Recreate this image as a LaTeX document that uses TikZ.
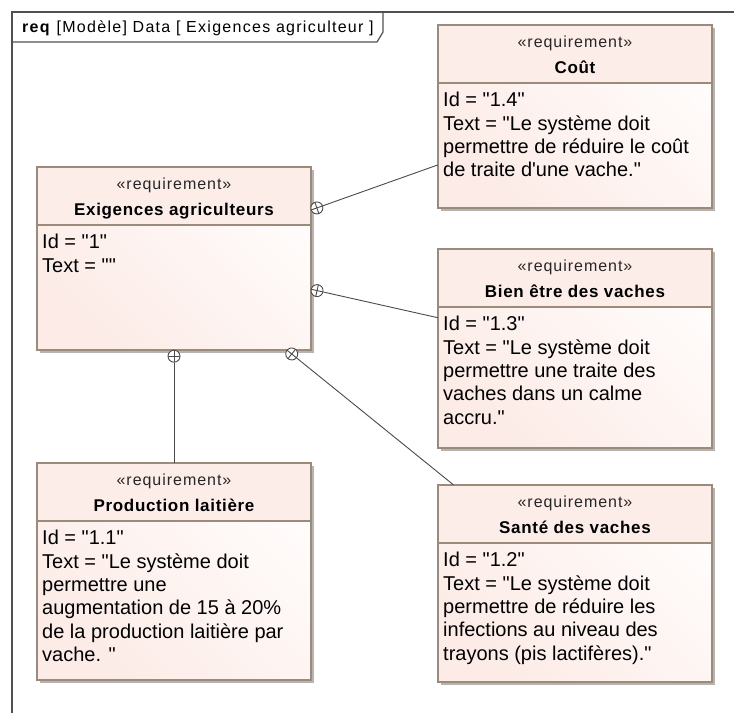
\documentclass[tikz,border=0pt]{standalone}
\usepackage{fontspec}
\setmainfont{Liberation Sans}[Ligatures=TeXOff]
\newfontfamily\stfont{Liberation Sans}[LetterSpace=6]
\newfontfamily\nmfont{Liberation Sans}[LetterSpace=4]
\newfontfamily\ttlfont{Liberation Sans}[LetterSpace=8]
\usetikzlibrary{calc}
\definecolor{hdr}{HTML}{FCEDE8}
\definecolor{bodyA}{HTML}{FCEBE6}
\definecolor{bodyB}{HTML}{FFFCFB}
\definecolor{bord}{HTML}{9B8B7A}
\definecolor{shd}{HTML}{B4B4B4}
\definecolor{frm}{HTML}{505050}
\definecolor{ln}{HTML}{4A4A4A}
\tikzset{
 rqnode/.style={rectangle, inner sep=0pt, left color=bodyA, right color=bodyB, shading angle=135},
 boxline/.style={draw=bord, line width=1.2pt},
 sttext/.style={font=\stfont\fontsize{16}{18}\selectfont, inner sep=0pt, anchor=base, text=black!85},
 nmtext/.style={font=\nmfont\bfseries\fontsize{17}{20}\selectfont, inner sep=0pt, anchor=base},
 bodytext/.style={font=\fontsize{20}{23.4}\selectfont, inner sep=0pt, anchor=north west, align=left},
 mk/.style={circle, draw=ln, line width=0.9pt, fill=white, minimum size=12pt, inner sep=0pt},
 conn/.style={draw=ln, line width=0.9pt},
 frame/.style={draw=frm, line width=1.2pt},
}
% #1 name, #2 left, #3 top, #4 right, #5 bottom, #6 title, #7 body
\newcommand\rqbox[7]{%
 \fill[shd] ({#2+3},{#3+3}) rectangle ({#4+3},{#5+3});
 \node[rqnode, minimum width={#4-#2}, minimum height={#5-#3}] (#1) at ({(#2+#4)/2},{(#3+#5)/2}) {};
 \fill[hdr] (#2,#3) rectangle (#4,{#3+58});
 \draw[boxline] (#2,#3) rectangle (#4,#5);
 \draw[boxline] (#2,{#3+58}) -- (#4,{#3+58});
 \node[sttext] (#1-st) at ({(#2+#4)/2},{#3+22}) {«requirement»};
 \node[nmtext] (#1-nm) at ({(#2+#4)/2},{#3+48}) {#6};
 \node[bodytext] (#1-tx) at ({#2+5},{#3+58+23.5-15}) {\rule{0pt}{15pt}#7};
}
\begin{document}
\begin{tikzpicture}[x=1pt,y=-1pt]
\useasboundingbox (0,0) rectangle (734,713);
% frame
\draw[frame] (12,713) -- (12,12) -- (734,12);
\draw[frame] (12,42) -- (377,42) -- (383,32) -- (383,12);
\node[font=\ttlfont\fontsize{16}{18}\selectfont, anchor=base west, inner sep=0pt] (title) at (22,32) {\textbf{req} [Modèle] Data [ Exigences agriculteur ]};
% boxes
\rqbox{cout}{438}{25}{712}{208}{Coût}{Id = "1.4"\\Text = "Le système doit\\permettre de réduire le coût\\de traite d'une vache."}
\rqbox{exig}{37}{167}{311}{350}{Exigences agriculteurs}{Id = "1"\\Text = ""}
\rqbox{bien}{438}{249}{712}{448}{Bien être des vaches}{Id = "1.3"\\Text = "Le système doit\\permettre une traite des\\vaches dans un calme\\accru."}
\rqbox{prod}{37}{463}{311}{680}{Production laitière}{Id = "1.1"\\Text = "Le système doit\\permettre une\\augmentation de 15 à 20\%\\de la production laitière par\\vache. "}
\rqbox{sante}{438}{485}{712}{682}{Santé des vaches}{Id = "1.2"\\Text = "Le système doit\\permettre de réduire les\\infections au niveau des\\trayons (pis lactifères)."}
% containment connectors
\foreach \t in {cout,bien,prod,sante}{
 \path (exig) -- (\t) coordinate[pos=0] (b-\t);
 \node[mk] (m-\t) at ($(b-\t)!6pt!(\t)$) {};
 \draw[conn] (m-\t) -- (\t);
 \draw[conn] ($(m-\t)!6pt!(\t)$) -- ($(m-\t)!-6pt!(\t)$);
 \draw[conn] ($(m-\t)!6pt!90:(\t)$) -- ($(m-\t)!6pt!-90:(\t)$);
}
\end{tikzpicture}
\end{document}
